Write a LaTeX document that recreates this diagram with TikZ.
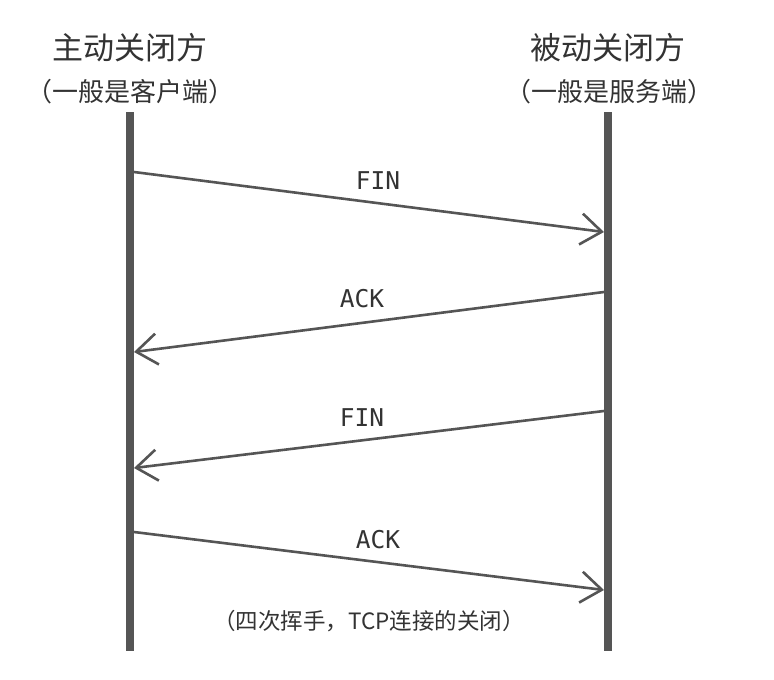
\documentclass[tikz,border=0pt]{standalone}
\usepackage{fontspec}
\setmainfont{Noto Sans CJK SC}
\newfontfamily\cjk{Noto Sans CJK SC}
\newfontfamily\monofont{DejaVu Sans Mono}
\usetikzlibrary{arrows.meta}
\definecolor{linegray}{HTML}{555555}
\definecolor{textgray}{HTML}{333333}
\tikzset{
  lifeline/.style={draw=linegray, line width=8.5pt},
  msg/.style={draw=linegray, line width=2.6pt, -{Straight Barb[length=21pt,width=31pt,line width=2.6pt]}},
  msglabel/.style={font=\monofont\fontsize{24.5}{24.5}\selectfont, text=textgray, inner sep=0pt},
  title/.style={font=\cjk\fontsize{31}{31}\selectfont, text=textgray, inner sep=0pt},
  subtitle/.style={font=\cjk\fontsize{26}{26}\selectfont, text=textgray, inner sep=0pt},
  caption/.style={font=\cjk\fontsize{22.5}{22.5}\selectfont, text=textgray, inner sep=0pt}
}
\begin{document}
\begin{tikzpicture}[x=1pt,y=-1pt]
\useasboundingbox (0,0) rectangle (774,680);
% headers
\node[title] (t1) at (130,48) {主动关闭方};
\node[subtitle] (s1) at (131,92) {（一般是客户端）};
\node[title] (t2) at (608,48) {被动关闭方};
\node[subtitle] (s2) at (609,92) {（一般是服务端）};
% lifelines
\coordinate (Ltop) at (130,112);
\coordinate (Lbot) at (130,651);
\coordinate (Rtop) at (608,112);
\coordinate (Rbot) at (608,651);
\draw[lifeline] (Ltop) -- (Lbot);
\draw[lifeline] (Rtop) -- (Rbot);
% message endpoints
\coordinate (l1) at (134,172); \coordinate (r1) at (604,232);
\coordinate (r2) at (604,292); \coordinate (l2) at (134,352);
\coordinate (r3) at (604,411); \coordinate (l3) at (134,468);
\coordinate (l4) at (134,532); \coordinate (r4) at (604,590);
\draw[msg] (l1) -- (r1);
\draw[msg] (r2) -- (l2);
\draw[msg] (r3) -- (l3);
\draw[msg] (l4) -- (r4);
% labels
\node[msglabel] (m1) at (378,181) {FIN};
\node[msglabel] (m2) at (362,299) {ACK};
\node[msglabel] (m3) at (362,418) {FIN};
\node[msglabel] (m4) at (378,540) {ACK};
\node[caption] (cap) at (369,621) {（四次挥手，TCP连接的关闭）};
\end{tikzpicture}
\end{document}
